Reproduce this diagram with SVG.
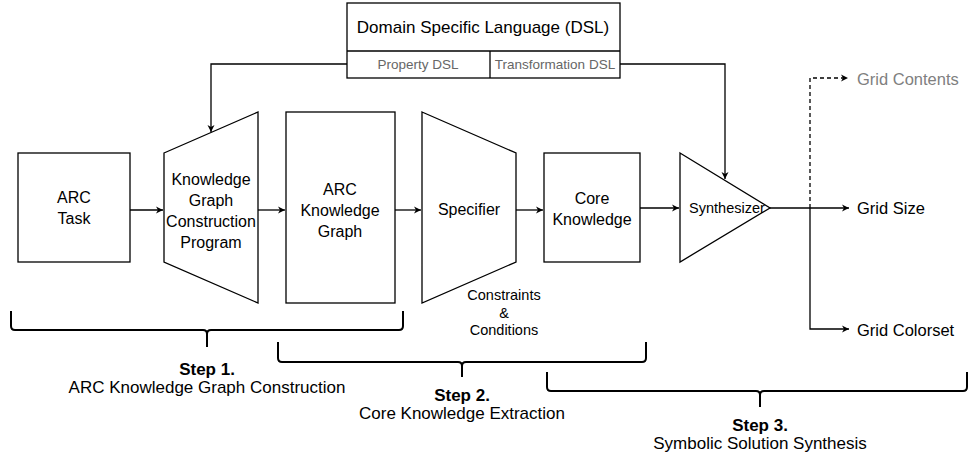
<svg xmlns="http://www.w3.org/2000/svg" width="971" height="456" viewBox="0 0 971 456">
<defs>
<marker id="ah" markerWidth="10" markerHeight="10" refX="8" refY="5" orient="auto" markerUnits="userSpaceOnUse">
<path d="M1,1.5 L8,5 L1,8.5 L3,5 Z" fill="#000"/>
</marker>
</defs>
<style>
.s{fill:#fff;stroke:#000;stroke-width:1.3}
.t{font-family:"Liberation Sans",Arial,sans-serif;font-size:16px;fill:#000;text-anchor:middle}
.sm{font-size:13.5px}
.g{fill:#666}
.b{font-weight:bold}
.st{font-size:17px}
.o{font-size:16.5px;text-anchor:start}
.c{fill:none;stroke:#000;stroke-width:1.3}
.br{fill:none;stroke:#000;stroke-width:2}
</style>
<rect width="971" height="456" fill="#fff"/>
<g id="dsl">
<rect class="s" x="347" y="3" width="273" height="75"/>
<line class="c" x1="347" y1="51" x2="620" y2="51" stroke="#666"/>
<line class="c" x1="490" y1="51" x2="490" y2="78" stroke="#666"/>
<text class="t st" x="483" y="33">Domain Specific Language (DSL)</text>
<text class="t sm g" x="418" y="69">Property DSL</text>
<text class="t sm g" x="555" y="69">Transformation DSL</text>
</g>
<g id="arc-task">
<rect class="s" x="18" y="153" width="112" height="109"/>
<text class="t" x="74" y="203">ARC</text>
<text class="t" x="74" y="224">Task</text>
</g>
<g id="kgcp">
<path class="s" d="M164,153 L258,112 L258,303 L164,262 Z"/>
<text class="t" x="211" y="185">Knowledge</text>
<text class="t" x="211" y="206">Graph</text>
<text class="t" x="211" y="227">Construction</text>
<text class="t" x="211" y="248">Program</text>
</g>
<g id="arc-kg">
<rect class="s" x="286" y="112" width="109" height="191"/>
<text class="t" x="340" y="195">ARC</text>
<text class="t" x="340" y="216">Knowledge</text>
<text class="t" x="340" y="237">Graph</text>
</g>
<g id="specifier">
<path class="s" d="M422,112 L516,153 L516,262 L422,303 Z"/>
<text class="t" x="469" y="215">Specifier</text>
</g>
<g id="core">
<rect class="s" x="544" y="153" width="96" height="109"/>
<text class="t" x="592" y="204">Core</text>
<text class="t" x="592" y="225">Knowledge</text>
</g>
<g id="synth">
<path class="s" d="M680,153 L770,208 L680,262 Z"/>
<text class="t" x="727" y="213" style="font-size:14.5px">Synthesizer</text>
</g>
<g id="labels">
<text class="t" x="504" y="300" style="font-size:14.5px">Constraints</text>
<text class="t" x="504" y="318" style="font-size:14.5px">&amp;</text>
<text class="t" x="504" y="335" style="font-size:14.5px">Conditions</text>
<text class="t o" x="857" y="85" style="fill:#808080">Grid Contents</text>
<text class="t o" x="857" y="214">Grid Size</text>
<text class="t o" x="857" y="336">Grid Colorset</text>
<text class="t st b" x="207" y="375">Step 1.</text>
<text class="t st" x="207" y="393">ARC Knowledge Graph Construction</text>
<text class="t st b" x="462" y="401">Step 2.</text>
<text class="t st" x="462" y="419">Core Knowledge Extraction</text>
<text class="t st b" x="760" y="431">Step 3.</text>
<text class="t st" x="760" y="449">Symbolic Solution Synthesis</text>
</g>
<g id="connectors">
<line class="c" x1="130" y1="210" x2="163" y2="210" marker-end="url(#ah)"/>
<line class="c" x1="258" y1="210" x2="285" y2="210" marker-end="url(#ah)"/>
<line class="c" x1="395" y1="210" x2="421" y2="210" marker-end="url(#ah)"/>
<line class="c" x1="516" y1="210" x2="543" y2="210" marker-end="url(#ah)"/>
<line class="c" x1="640" y1="208" x2="679" y2="208" marker-end="url(#ah)"/>
<path class="c" d="M347,64 L211,64 L211,132" marker-end="url(#ah)"/>
<path class="c" d="M620,64 L725,64 L725,179" marker-end="url(#ah)"/>
<line class="c" x1="770" y1="208" x2="849" y2="208" marker-end="url(#ah)"/>
<path class="c" d="M810,208 L810,329 L849,329" marker-end="url(#ah)"/>
<path class="c" d="M810,208 L810,78 L848,78" stroke-dasharray="4,3" marker-end="url(#ah)"/>
</g>
<g id="braces">
<path class="br" d="M11,311 L11,326 Q11,330 15,330 L203,330 Q207,330 207,334 Q207,330 211,330 L399,330 Q403,330 403,326 L403,311 M207,333 L207,347"/>
<path class="br" d="M278,342 L278,358 Q278,362 282,362 L458,362 Q462,362 462,366 Q462,362 466,362 L642,362 Q646,362 646,358 L646,342 M462,365 L462,377"/>
<path class="br" d="M547,372 L547,387 Q547,391 551,391 L756,391 Q760,391 760,395 Q760,391 764,391 L963,391 Q967,391 967,387 L967,372 M760,394 L760,407"/>
</g>
</svg>
